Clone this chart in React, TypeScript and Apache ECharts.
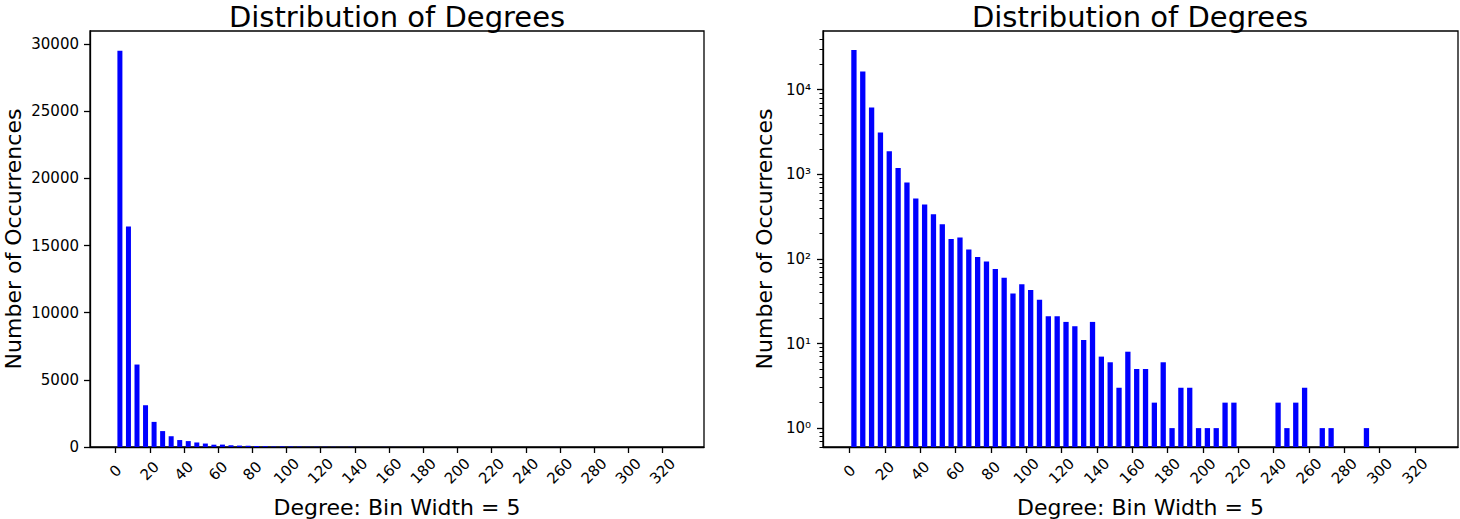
import React, { useEffect, useRef } from "react";
import * as echarts from "echarts";

// ---- data ----
const binStart = 1; // first degree bin starts at 1
const binWidth = 5; // degree bin width
const barWidthDeg = 3; // drawn bar width in degree units
// occurrences per degree bin (bins 1..59)
const counts = [
  29500, 16420, 6140, 3110, 1870, 1185, 802, 518, 440, 337,
  257, 172, 179, 129, 105, 93, 76, 60, 39, 50,
  43, 33, 21, 21, 18, 16, 11, 18, 7, 6,
  3, 8, 5, 5, 2, 6, 1, 3, 3, 1,
  1, 1, 2, 2, 0, 0, 0, 0, 2, 1,
  2, 3, 0, 1, 1, 0, 0, 0, 1,
];
const degreeTicks = [0, 20, 40, 60, 80, 100, 120, 140, 160, 180, 200, 220, 240, 260, 280, 300, 320];
const linearTicks = [0, 5000, 10000, 15000, 20000, 25000, 30000];
const logTicks = [1, 10, 100, 1000, 10000];
const logMinorTicks = [
  0.6, 0.7, 0.8, 0.9,
  2, 3, 4, 5, 6, 7, 8, 9,
  20, 30, 40, 50, 60, 70, 80, 90,
  200, 300, 400, 500, 600, 700, 800, 900,
  2000, 3000, 4000, 5000, 6000, 7000, 8000, 9000,
  20000, 30000, 40000,
];
const superscripts = ["⁰", "¹", "²", "³", "⁴", "⁵"];
const titleText = "Distribution of Degrees";
const xName = "Degree: Bin Width = 5";
const yName = "Number of Occurrences";

const binCenters = counts.map((_, i) => binStart + i * binWidth + barWidthDeg / 2);

const FONT = "DejaVu Sans";
const BLUE = "#0000ff";

export default function App() {
  const ref = useRef<HTMLDivElement>(null);
  useEffect(() => {
    if (!ref.current) return;
    const chart = echarts.init(ref.current, null, { renderer: "svg" });

    const grids = [
      { left: 90, top: 31, width: 614, height: 416 },
      { left: 823, top: 31, width: 635, height: 416 },
    ];

    const xAxisBase = (gridIndex: number) => ({
      type: "value",
      gridIndex,
      min: -15,
      max: 344.3,
      axisLine: { show: true, onZero: false, lineStyle: { color: "#000", width: 1.3 } },
      axisTick: {
        show: true,
        customValues: degreeTicks,
        length: 6,
        lineStyle: { color: "#000", width: 1.3 },
      },
      axisLabel: {
        customValues: degreeTicks,
        rotate: 45,
        align: "center",
        verticalAlign: "middle",
        margin: 24,
        fontSize: 15,
        color: "#000",
        fontFamily: FONT,
      },
      splitLine: { show: false },
      name: xName,
      nameLocation: "middle",
      nameGap: 49,
      nameTextStyle: { fontSize: 22, color: "#000", fontFamily: FONT },
    });

    const option: any = {
      animation: false,
      textStyle: { fontFamily: FONT },
      grid: grids.map((g) => ({
        ...g,
        show: true,
        borderColor: "#000",
        borderWidth: 1.3,
        backgroundColor: "transparent",
        containLabel: false,
        outerBoundsMode: "none",
      })),
      graphic: [
        {
          type: "text",
          x: 397,
          y: 17,
          style: {
            text: titleText,
            fontSize: 29,
            fontFamily: FONT,
            fill: "#000",
            align: "center",
            verticalAlign: "middle",
          },
        },
        {
          type: "text",
          x: 1140,
          y: 17,
          style: {
            text: titleText,
            fontSize: 29,
            fontFamily: FONT,
            fill: "#000",
            align: "center",
            verticalAlign: "middle",
          },
        },
      ],
      xAxis: [xAxisBase(0), xAxisBase(1)],
      yAxis: [
        {
          type: "value",
          gridIndex: 0,
          min: 0,
          max: 30976,
          axisLine: { show: true, onZero: false, lineStyle: { color: "#000", width: 1.3 } },
          axisTick: {
            show: true,
            customValues: linearTicks,
            length: 6,
            lineStyle: { color: "#000", width: 1.3 },
          },
          axisLabel: {
            customValues: linearTicks,
            formatter: (v: number) => String(v),
            margin: 11,
            fontSize: 15,
            color: "#000",
            fontFamily: FONT,
          },
          splitLine: { show: false },
          name: yName,
          nameLocation: "middle",
          nameRotate: 90,
          nameGap: 66,
          nameTextStyle: { fontSize: 22, color: "#000", fontFamily: FONT },
        },
        {
          type: "log",
          logBase: 10,
          gridIndex: 1,
          min: 0.598,
          max: 49400,
          axisLine: { show: true, onZero: false, lineStyle: { color: "#000", width: 1.3 } },
          axisTick: {
            show: true,
            customValues: logTicks,
            length: 6,
            lineStyle: { color: "#000", width: 1.3 },
          },
          axisLabel: {
            customValues: logTicks,
            formatter: (v: number) => "10" + superscripts[Math.round(Math.log10(v))],
            margin: 12,
            fontSize: 15,
            color: "#000",
            fontFamily: FONT,
          },
          splitLine: { show: false },
          name: yName,
          nameLocation: "middle",
          nameRotate: 90,
          nameGap: 48,
          nameTextStyle: { fontSize: 22, color: "#000", fontFamily: FONT },
        },
        {
          type: "log",
          logBase: 10,
          gridIndex: 1,
          position: "left",
          min: 0.598,
          max: 49400,
          axisLine: { show: false, onZero: false },
          axisTick: {
            show: true,
            customValues: logMinorTicks,
            length: 3.5,
            lineStyle: { color: "#000", width: 1 },
          },
          axisLabel: { show: false },
          splitLine: { show: false },
        },
      ],
      series: [
        {
          type: "bar",
          xAxisIndex: 0,
          yAxisIndex: 0,
          barWidth: 5,
          itemStyle: { color: BLUE },
          data: counts.map((c, i) => [binCenters[i], c]),
        },
        {
          type: "custom",
          xAxisIndex: 1,
          yAxisIndex: 1,
          encode: { x: 0, y: 1 },
          data: counts
            .map((c, i) => [binCenters[i], c])
            .filter((d) => d[1] > 0),
          renderItem: (params: any, api: any) => {
            const x = api.value(0);
            const y = api.value(1);
            const top = api.coord([x, y]);
            const l = api.coord([x - barWidthDeg / 2, y])[0];
            const r = api.coord([x + barWidthDeg / 2, y])[0];
            const cs = params.coordSys;
            const bottom = cs.y + cs.height;
            return {
              type: "rect",
              shape: { x: l, y: top[1], width: r - l, height: bottom - top[1] },
              style: { fill: BLUE },
            };
          },
        },
      ],
    };

    chart.setOption(option);
    return () => chart.dispose();
  }, []);

  return (
    <div
      ref={ref}
      style={{ position: "absolute", left: 0, top: 0, width: 1460, height: 519 }}
    />
  );
}
